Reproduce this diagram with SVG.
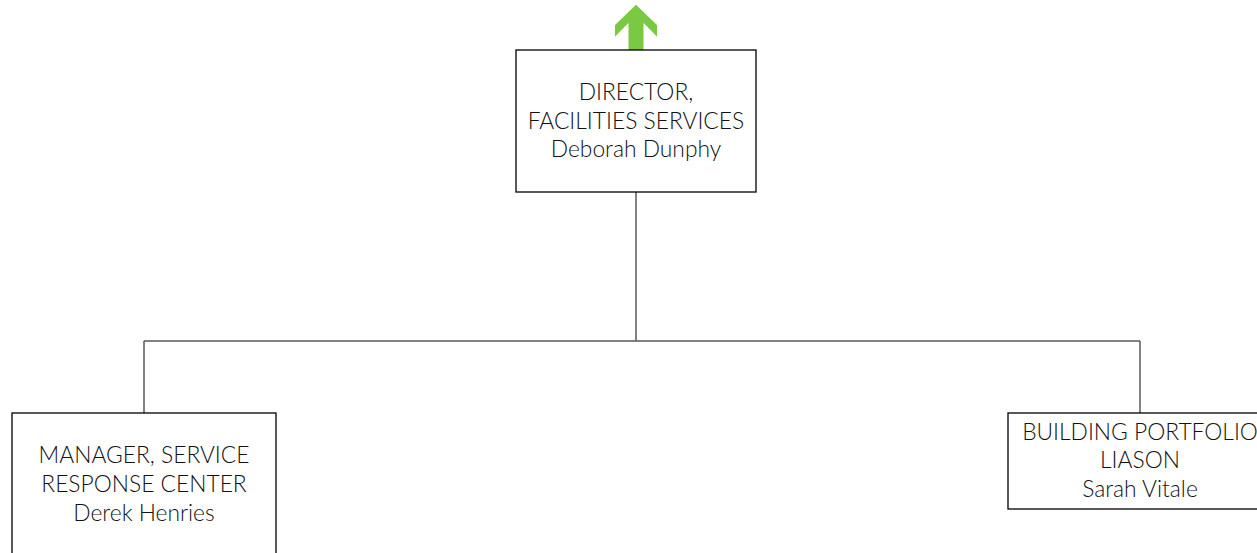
<svg xmlns="http://www.w3.org/2000/svg" width="1257" height="553" viewBox="0 0 1257 553">
<style>
.box{fill:#fff;stroke:#000;stroke-width:1.3}
.t{font-family:Lato,"Open Sans",sans-serif;font-weight:300;font-size:22.8px;fill:#111;text-anchor:middle}
.c{fill:none;stroke:#595959;stroke-width:1.5}
</style>
<rect width="1257" height="553" fill="#fff"/>
<g id="connectors">
<path class="c" d="M636 192V341M144 341H1140M144 341V413M1140 341V413"/>
</g>
<g id="up-arrow">
<polygon fill="#7AC943" points="636,4.7 657,25 657,36.7 643.5,22.7 643.5,50 628.5,50 628.5,22.7 615,36.7 615,25"/>
</g>
<g id="director">
<rect class="box" x="516" y="50" width="240" height="142"/>
<text class="t" x="636" y="100">DIRECTOR,</text>
<text class="t" x="636" y="129">FACILITIES SERVICES</text>
<text class="t" x="636" y="157">Deborah Dunphy</text>
</g>
<g id="manager">
<rect class="box" x="12" y="413" width="264" height="160"/>
<text class="t" x="144" y="463">MANAGER, SERVICE</text>
<text class="t" x="144" y="492">RESPONSE CENTER</text>
<text class="t" x="144" y="521">Derek Henries</text>
</g>
<g id="liaison">
<rect class="box" x="1008" y="413" width="264" height="96"/>
<text class="t" x="1140" y="440">BUILDING PORTFOLIO</text>
<text class="t" x="1140" y="468">LIASON</text>
<text class="t" x="1140" y="497">Sarah Vitale</text>
</g>
</svg>
